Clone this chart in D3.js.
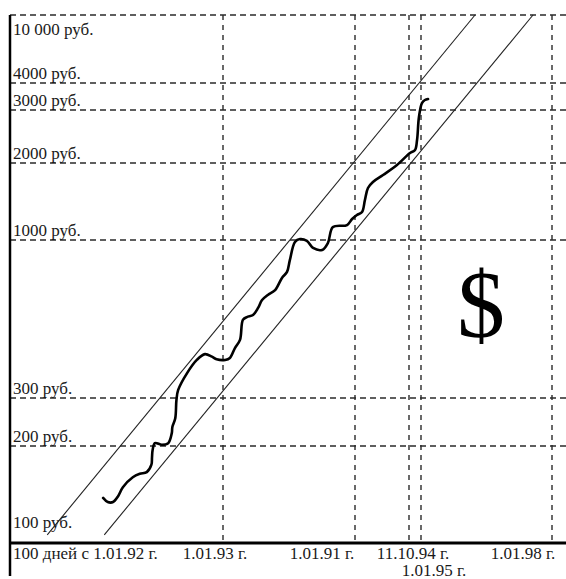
<!DOCTYPE html>
<html>
<head>
<meta charset="utf-8">
<script src="https://cdn.jsdelivr.net/npm/d3@7"></script>
<style>
  html, body { margin: 0; padding: 0; background: #fff; }
  svg { display: block; }
  text { font-family: "Liberation Serif", "DejaVu Serif", serif; fill: #1a1a1a; }
</style>
</head>
<body>
<svg id="chart" width="566" height="579"></svg>
<script>
// ---- data ----
const yTickValues = [100, 200, 300, 1000, 2000, 3000, 4000, 10000];
const yTickLabels = ["100 руб.", "200 руб.", "300 руб.", "1000 руб.", "2000 руб.", "3000 руб.", "4000 руб.", "10 000 руб."];

// days counted from 1.01.92
const xTickDays = [0, 366, 731, 1014, 1096, 2192];
const xTickLabels = ["100 дней с 1.01.92 г.", "1.01.93 г.", "1.01.91 г.", "11.10.94 г.", "1.01.95 г.", "1.01.98 г."];

// dollar rate, rubles
const rateDays = [160, 168, 177, 186, 194, 211, 223, 235, 243, 244, 245, 249, 261, 272, 278, 279, 284, 286, 289, 304,
  321, 335, 347, 355, 372, 385, 399, 413, 421, 432, 449, 463, 474, 490, 510, 529, 543, 551, 565, 579,
  598, 615, 640, 656, 670, 709, 723, 741, 768, 783, 799, 825, 878, 951, 1021, 1055, 1069, 1082, 1104, 1129, 1155];
const rateValues = [138, 134, 134, 140, 149, 160, 164, 166, 175, 184, 194, 205, 202, 205, 223, 235, 253, 295, 319, 362,
  401, 419, 411, 403, 401, 407, 439, 467, 544, 556, 565, 596, 633, 658, 683, 749, 784, 859, 985, 1009,
  993, 941, 927, 977, 1124, 1144, 1208, 1252, 1287, 1434, 1597, 1686, 1795, 1964, 2159, 2209, 2385, 2844, 3232, 3337, 3373];

// trend channel
const upperDays = [64, 1548];
const upperValues = [106, 10000];
const lowerDays = [162, 2033];
const lowerValues = [106, 10000];

// ---- layout ----
const plotLeft = 10, plotRight = 566, plotTop = 15, plotBottom = 543;
const xRange = [10, 223, 355, 409, 421, 552];
const yRange = [543, 446, 398, 240, 163, 110, 83, 15];

const svg = d3.select("#chart");

const x = d3.scaleLinear().domain(xTickDays).range(xRange);
const y = d3.scaleLog().domain(yTickValues).range(yRange);

// horizontal dashed grid
svg.append("g").selectAll("line").data(yTickValues.filter(v => v !== 100)).join("line")
  .attr("x1", plotLeft).attr("x2", plotRight)
  .attr("y1", d => y(d)).attr("y2", d => y(d))
  .attr("stroke", "#2a2a2a").attr("stroke-width", 1.4)
  .attr("stroke-dasharray", "6,4");

// vertical dashed grid
svg.append("g").selectAll("line").data(xTickDays.slice(1)).join("line")
  .attr("x1", d => x(d)).attr("x2", d => x(d))
  .attr("y1", plotTop).attr("y2", plotBottom)
  .attr("stroke", "#2a2a2a").attr("stroke-width", 1.4)
  .attr("stroke-dasharray", "5,5");

// y labels
const yLabelOffset = v => v === 10000 ? 20 : (v === 100 ? -15 : -4);
svg.append("g").selectAll("text").data(yTickValues).join("text")
  .attr("x", 13)
  .attr("y", d => y(d) + yLabelOffset(d))
  .attr("font-size", 17)
  .text((d, i) => yTickLabels[i]);

// channel lines
const channel = [
  upperDays.map((d, i) => [d, upperValues[i]]),
  lowerDays.map((d, i) => [d, lowerValues[i]])
];
svg.append("g").selectAll("line").data(channel).join("line")
  .attr("x1", d => x(d[0][0])).attr("y1", d => y(d[0][1]))
  .attr("x2", d => x(d[1][0])).attr("y2", d => y(d[1][1]))
  .attr("stroke", "#222").attr("stroke-width", 1.1);

// rate curve
const pts = rateDays.map((d, i) => [d, rateValues[i]]);
svg.append("path")
  .datum(pts)
  .attr("fill", "none")
  .attr("stroke", "#000")
  .attr("stroke-width", 2.6)
  .attr("stroke-linejoin", "round")
  .attr("stroke-linecap", "round")
  .attr("d", d3.line().x(d => x(d[0])).y(d => y(d[1])).curve(d3.curveCatmullRom.alpha(0.5)));

// axes
svg.append("line").attr("x1", plotLeft).attr("x2", plotLeft).attr("y1", plotTop).attr("y2", 576)
  .attr("stroke", "#000").attr("stroke-width", 2.5);
svg.append("line").attr("x1", plotLeft).attr("x2", plotRight).attr("y1", plotBottom).attr("y2", plotBottom)
  .attr("stroke", "#000").attr("stroke-width", 2.8);

// x labels
const xLabelCenter = [null, -8, -33, 4, 13, -29];
const xLabelRow = [0, 0, 0, 0, 1, 0];
svg.append("g").selectAll("text").data(xTickDays).join("text")
  .attr("x", (d, i) => i === 0 ? 13 : x(d) + xLabelCenter[i])
  .attr("y", (d, i) => 559 + xLabelRow[i] * 17)
  .attr("text-anchor", (d, i) => i === 0 ? "start" : "middle")
  .attr("font-size", 17)
  .text((d, i) => xTickLabels[i]);

// dollar sign
svg.append("text")
  .attr("x", 481).attr("y", 337)
  .attr("text-anchor", "middle")
  .attr("font-size", 96)
  .style("fill", "#000")
  .text("$");
</script>
</body>
</html>
